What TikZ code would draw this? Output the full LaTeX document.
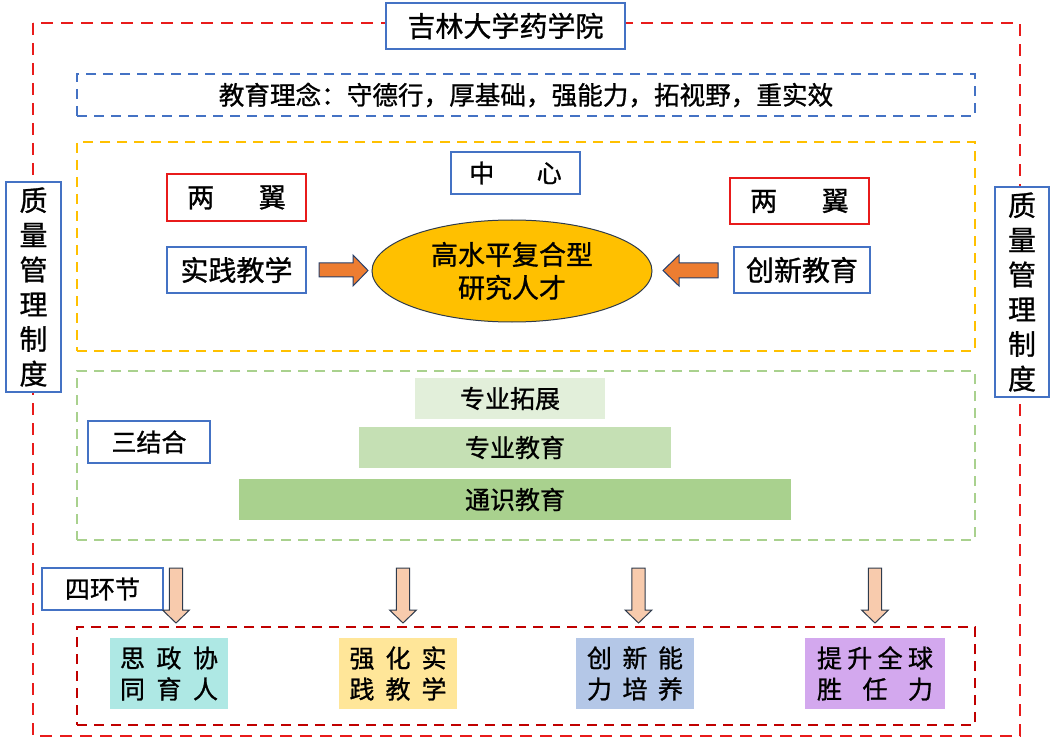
\documentclass[tikz,border=0pt]{standalone}
\usepackage{fontspec}
\setmainfont{Noto Sans CJK SC}[FakeBold=1]
\usetikzlibrary{shapes.geometric}
\definecolor{bblue}{HTML}{4472C4}
\definecolor{rred}{HTML}{E81B1B}
\definecolor{dred}{HTML}{C00000}
\definecolor{yell}{HTML}{FFC000}
\definecolor{gline}{HTML}{A9D18E}
\definecolor{bar1}{HTML}{E2EFDA}
\definecolor{bar2}{HTML}{C5E0B4}
\definecolor{bar3}{HTML}{A9D18E}
\definecolor{orangeA}{HTML}{ED7D31}
\definecolor{peach}{HTML}{F8CBAD}
\definecolor{arrline}{HTML}{2F3B4C}
\definecolor{teal}{HTML}{AEE8E4}
\definecolor{butter}{HTML}{FFE699}
\definecolor{lblue}{HTML}{B4C7E7}
\definecolor{lpurple}{HTML}{D3A8EE}
\tikzset{
  box/.style={rectangle, inner sep=0pt, line width=2pt, fill=white},
  bluebox/.style={box, draw=bblue},
  redbox/.style={box, draw=rred},
  frame/.style={rectangle, inner sep=0pt, line width=2pt, dash pattern=on 10pt off 7pt},
  bar/.style={rectangle, inner sep=0pt, minimum height=41pt, font=\fontsize{25}{28}\selectfont},
  leaf/.style={rectangle, inner sep=0pt, minimum height=71pt, align=center, font=\fontsize{25}{31}\selectfont},
  side/.style={bluebox, minimum width=55pt, minimum height=210pt, align=center, font=\fontsize{28}{34.7}\selectfont},
  orangearrow/.style={draw=bblue!55!black, fill=orangeA, line width=1pt, line join=miter},
  peacharrow/.style={draw=arrline, fill=peach, line width=1pt, line join=miter},
}
\begin{document}
\begin{tikzpicture}[x=1pt,y=-1pt]
\useasboundingbox (0,0) rectangle (1058,738);
% outer red frame
\draw[rred, line width=2.5pt, dash pattern=on 12pt off 8pt] (33,23) rectangle (1020,736);
% title
\node[bluebox, minimum width=239pt, minimum height=46pt, font=\fontsize{28}{30}\selectfont] (title) at (505.5,26) {吉林大学药学院};
% side boxes
\node[side] (lside) at (33.5,287) {质\\量\\管\\理\\制\\度};
\node[side, minimum width=54pt] (rside) at (1022,292) {质\\量\\管\\理\\制\\度};
% idea frame
\node[frame, draw=bblue, minimum width=898pt, minimum height=42pt, font=\fontsize{25.6}{28}\selectfont] (idea) at (526,95) {教育理念：守德行，厚基础，强能力，拓视野，重实效};
% core frame
\node[frame, draw=yell, minimum width=898pt, minimum height=209pt] (core) at (526,246.5) {};
\node[bluebox, minimum width=129pt, minimum height=42pt, font=\fontsize{25}{28}\selectfont] (center) at (515.5,173) {中\hspace{1.7em}心};
\node[redbox, minimum width=139pt, minimum height=47pt, font=\fontsize{27}{28}\selectfont] (lwing) at (236.5,197.5) {两\hspace{1.65em}翼};
\node[redbox, minimum width=139pt, minimum height=46pt, font=\fontsize{27}{28}\selectfont] (rwing) at (799.5,201) {两\hspace{1.65em}翼};
\node[bluebox, minimum width=139pt, minimum height=46pt, font=\fontsize{28}{28}\selectfont] (prac) at (236.5,270) {实践教学};
\node[bluebox, minimum width=136pt, minimum height=46pt, font=\fontsize{28}{28}\selectfont] (inno) at (802,270) {创新教育};
\node[ellipse, draw=arrline, line width=1pt, fill=yell, inner sep=0pt, minimum width=280pt, minimum height=102pt, align=center, font=\fontsize{27}{33}\selectfont] (talent) at (512,271) {高水平复合型\\研究人才};
% orange block arrows
\draw[orangearrow] (319,263) -- (353,263) -- (353,255) -- (368,270.5) -- (353,286) -- (353,277) -- (319,277) -- cycle;
\draw[orangearrow] (718,263) -- (679,263) -- (679,255) -- (663,270.5) -- (679,286) -- (679,278) -- (718,278) -- cycle;
% three combination frame
\node[frame, draw=gline, minimum width=898pt, minimum height=169pt] (three) at (526,455.5) {};
\node[bluebox, minimum width=122pt, minimum height=42pt, font=\fontsize{25}{28}\selectfont] (sanjie) at (149,442) {三结合};
\node[bar, fill=bar1, minimum width=190pt] (b1) at (510,398.5) {专业拓展};
\node[bar, fill=bar2, minimum width=312pt] (b2) at (515,447.5) {专业教育};
\node[bar, fill=bar3, minimum width=552pt] (b3) at (515,499.5) {通识教育};
% four links
\node[frame, draw=dred, minimum width=898pt, minimum height=98pt] (four) at (526,676) {};
\node[bluebox, minimum width=121pt, minimum height=42pt, font=\fontsize{25}{28}\selectfont] (sihuan) at (102.5,589) {四环节};
\foreach \x in {176, 403, 638.5, 875}
  \draw[peacharrow] ({\x-6.7},568) -- ({\x+6.7},568) -- ({\x+6.7},610) -- ({\x+13.5},610) -- (\x,623) -- ({\x-13.5},610) -- ({\x-6.7},610) -- cycle;
\node[leaf, fill=teal, minimum width=118pt] (l1) at (169,673.5) {\makebox[98pt]{思\hfill 政\hfill 协}\\\makebox[98pt]{同\hfill 育\hfill 人}};
\node[leaf, fill=butter, minimum width=118pt] (l2) at (398,673.5) {\makebox[97pt]{强\hfill 化\hfill 实}\\\makebox[97pt]{践\hfill 教\hfill 学}};
\node[leaf, fill=lblue, minimum width=118pt] (l3) at (635,673.5) {\makebox[96pt]{创\hfill 新\hfill 能}\\\makebox[96pt]{力\hfill 培\hfill 养}};
\node[leaf, fill=lpurple, minimum width=140pt] (l4) at (875,673.5) {\makebox[116pt]{提\hfill 升\hfill 全\hfill 球}\\\makebox[116pt]{胜\hfill 任\hfill 力}};
\end{tikzpicture}
\end{document}
